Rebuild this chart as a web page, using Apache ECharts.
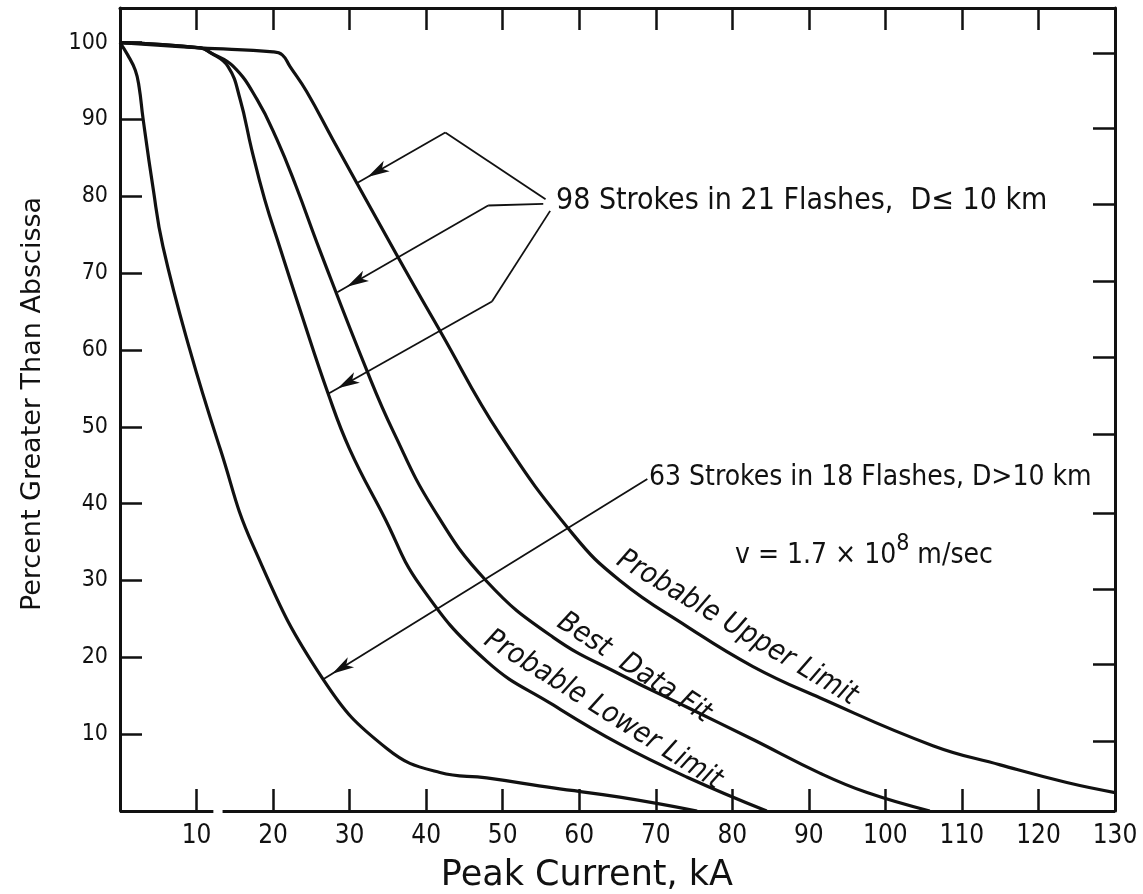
<!DOCTYPE html>
<html>
<head>
<meta charset="utf-8">
<script src="https://cdn.jsdelivr.net/npm/echarts@6/dist/echarts.min.js"></script>
<style>
  html, body { margin: 0; padding: 0; background: #ffffff; }
  #chart { width: 1143px; height: 894px; }
</style>
</head>
<body>
<div id="chart"></div>
<script>
// Tick positions (kA on x, percent on y)
const xLabelValues = [10, 20, 30, 40, 50, 60, 70, 80, 90, 100, 110, 120, 130];
const xTickValues = [10, 20, 30, 40, 50, 60, 70, 80, 90, 100, 110, 120];
const yTickValues = [10, 20, 30, 40, 50, 60, 70, 80, 90, 100];
const rightTickValues = [9.1, 19.1, 28.9, 38.8, 49.0, 59.0, 69.0, 79.0, 88.9, 98.6];

// Cumulative distributions: [peak current kA, percent greater than abscissa]
// 63 strokes in 18 flashes, D > 10 km
const farStrokes = [
  [0, 100], [1.0, 98.4], [2.0, 96.4], [2.5, 94.2], [3.0, 90.2], [4.3, 81.2],
  [5.6, 73.5], [9.1, 60.1], [13.1, 47.1], [17.4, 34.5], [26.5, 17.2], [34.9, 8.1],
  [41.8, 5.0], [47.9, 4.3], [56.6, 3.0], [65.3, 1.8], [75.4, 0]
];
// 98 strokes in 21 flashes, D <= 10 km: probable lower limit
const lowerLimit = [
  [0, 100], [10.5, 99.3], [11.8, 98.7], [14.1, 96.9], [15.7, 92.6], [17.2, 86.1],
  [18.9, 79.6], [20.9, 73.3], [23.5, 65.3], [27.2, 54.3], [30.0, 47.1], [34.4, 38.5],
  [39.2, 29.4], [47.9, 19.5], [56.6, 13.8], [65.3, 8.7], [74.1, 4.4], [84.5, 0]
];
// best data fit
const bestFit = [
  [0, 100], [10.5, 99.3], [11.8, 98.7], [14.8, 96.9], [17.9, 92.6], [20.5, 87.4],
  [23.0, 81.3], [26.1, 73.0], [32.3, 57.2], [35.7, 49.4], [40.9, 39.4], [47.9, 29.9],
  [56.6, 22.6], [65.3, 17.8], [74.1, 13.5], [82.7, 9.3], [91.5, 4.9], [97.6, 2.4],
  [105.8, 0]
];
// probable upper limit
const upperLimit = [
  [0, 100], [10.5, 99.3], [20.0, 98.8], [21.2, 98.4], [22.2, 96.9], [24.4, 93.6],
  [27.8, 87.4], [36.2, 72.3], [41.8, 62.5], [49.7, 48.9], [59.2, 36.0], [65.3, 30.0],
  [74.1, 24.0], [82.7, 18.8], [91.5, 14.7], [106.2, 8.5], [115.0, 6.0], [123.7, 3.7],
  [130.0, 2.4]
];

// Leader lines from the captions to the curves (last point carries the arrowhead)
const leaders = [
  [[55.6, 79.6], [42.5, 88.3], [31.1, 81.8]],
  [[55.3, 79.0], [48.1, 78.8], [28.4, 67.5]],
  [[56.2, 78.1], [48.6, 66.3], [27.2, 54.3]],
  [[68.9, 43.2], [26.5, 17.1]]
];
// Bottom axis line, drawn in two pieces
const baseSegments = [[0, 12.2], [13.4, 130]];

const COND = '"DejaVu Sans Condensed", "Liberation Sans Narrow", "Arial Narrow", sans-serif';
const PLAIN = '"DejaVu Sans", "Noto Sans", sans-serif';
const INK = '#111111';

const leaderData = [];
leaders.forEach(function (path) {
  for (let i = 0; i < path.length - 1; i++) {
    const last = i === path.length - 2;
    leaderData.push([
      { coord: path[i], symbol: 'none' },
      last
        ? { coord: path[i + 1], symbol: 'arrow', symbolSize: [9, 22], symbolOffset: [0, 11] }
        : { coord: path[i + 1], symbol: 'none' }
    ]);
  }
});

const baseData = baseSegments.map(function (s) {
  return [{ coord: [s[0], 0] }, { coord: [s[1], 0] }];
});

function curve(name, data) {
  return {
    name: name,
    type: 'line',
    data: data,
    smooth: 0.45,
    showSymbol: false,
    symbol: 'none',
    clip: false,
    lineStyle: { color: INK, width: 3.2 },
    silent: true
  };
}

function frameAxisLine() {
  return { show: true, onZero: false, lineStyle: { color: INK, width: 3 } };
}

const chart = echarts.init(document.getElementById('chart'), null, { renderer: 'canvas' });

chart.setOption({
  animation: false,
  backgroundColor: '#ffffff',
  grid: { left: 120, right: 28, top: 8, bottom: 83, containLabel: false },
  xAxis: [
    {
      type: 'value', position: 'bottom', min: 0, max: 130,
      axisLine: { show: false, onZero: false },
      axisTick: { show: true, inside: true, length: 22, customValues: xTickValues,
        lineStyle: { color: INK, width: 2.5 } },
      axisLabel: { show: true, customValues: xLabelValues, margin: 12,
        color: INK, fontFamily: COND, fontSize: 26 },
      splitLine: { show: false }
    },
    {
      type: 'value', position: 'top', min: 0, max: 130,
      axisLine: frameAxisLine(),
      axisTick: { show: true, inside: true, length: 22, customValues: xTickValues,
        lineStyle: { color: INK, width: 2.5 } },
      axisLabel: { show: false },
      splitLine: { show: false }
    }
  ],
  yAxis: [
    {
      type: 'value', position: 'left', min: 0, max: 104.5,
      axisLine: frameAxisLine(),
      axisTick: { show: true, inside: true, length: 22, customValues: yTickValues,
        lineStyle: { color: INK, width: 2.5 } },
      axisLabel: { show: true, customValues: yTickValues, margin: 12,
        color: INK, fontFamily: COND, fontSize: 23 },
      splitLine: { show: false }
    },
    {
      type: 'value', position: 'right', min: 0, max: 104.5,
      axisLine: frameAxisLine(),
      axisTick: { show: true, inside: true, length: 22, customValues: rightTickValues,
        lineStyle: { color: INK, width: 2.5 } },
      axisLabel: { show: false },
      splitLine: { show: false }
    }
  ],
  series: [
    curve('D > 10 km', farStrokes),
    curve('Probable Lower Limit', lowerLimit),
    curve('Best Data Fit', bestFit),
    curve('Probable Upper Limit', upperLimit),
    {
      name: 'frame',
      type: 'line',
      data: [],
      silent: true,
      markLine: {
        silent: true,
        animation: false,
        symbol: ['none', 'none'],
        label: { show: false },
        lineStyle: { color: INK, width: 3, type: 'solid' },
        emphasis: { disabled: true },
        data: baseData
      }
    },
    {
      name: 'leaders',
      type: 'line',
      data: [],
      silent: true,
      markLine: {
        silent: true,
        animation: false,
        symbol: ['none', 'none'],
        label: { show: false },
        lineStyle: { color: INK, width: 1.8, type: 'solid' },
        itemStyle: { color: INK },
        emphasis: { disabled: true },
        data: leaderData
      }
    }
  ],
  graphic: [
    {
      type: 'text', x: 33, y: 404, rotation: Math.PI / 2,
      style: { text: 'Percent Greater Than Abscissa', fill: INK, font: '27px ' + PLAIN,
        textAlign: 'center', textVerticalAlign: 'middle' }
    },
    {
      type: 'text', x: 733, y: 876,
      style: { text: 'Peak Current, kA', fill: INK, font: '35px ' + PLAIN,
        textAlign: 'right', textVerticalAlign: 'middle' }
    },
    {
      type: 'text', x: 556, y: 201,
      style: { text: '98 Strokes in 21 Flashes,  D\u2264 10 km', fill: INK, font: '30px ' + COND,
        textAlign: 'left', textVerticalAlign: 'middle' }
    },
    {
      type: 'text', x: 649, y: 478,
      style: { text: '63 Strokes in 18 Flashes, D>10 km', fill: INK, font: '28px ' + COND,
        textAlign: 'left', textVerticalAlign: 'middle' }
    },
    {
      type: 'text', x: 735, y: 551,
      style: {
        text: '{a|v = 1.7 \u00d7 10}{s|8}{a| m/sec}',
        textAlign: 'left', textVerticalAlign: 'middle',
        rich: {
          a: { fill: INK, font: '28px ' + COND, verticalAlign: 'bottom' },
          s: { fill: INK, font: '23px ' + COND, verticalAlign: 'top', padding: [0, 0, 14, 0] }
        }
      }
    },
    {
      type: 'text', x: 737, y: 628, rotation: -0.54,
      style: { text: 'Probable Upper Limit', fill: INK, font: 'italic 29px ' + COND,
        textAlign: 'center', textVerticalAlign: 'middle' }
    },
    {
      type: 'text', x: 634, y: 668, rotation: -0.58,
      style: { text: 'Best  Data Fit', fill: INK, font: 'italic 29px ' + COND,
        textAlign: 'center', textVerticalAlign: 'middle' }
    },
    {
      type: 'text', x: 603, y: 710, rotation: -0.56,
      style: { text: 'Probable Lower Limit', fill: INK, font: 'italic 29px ' + COND,
        textAlign: 'center', textVerticalAlign: 'middle' }
    }
  ]
});
</script>
</body>
</html>
